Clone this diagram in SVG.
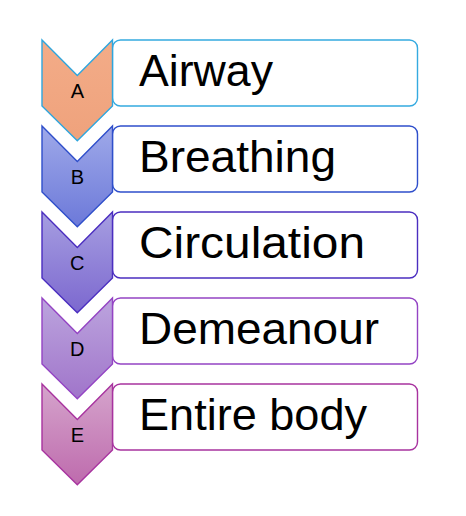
<svg xmlns="http://www.w3.org/2000/svg" width="466" height="516" viewBox="0 0 466 516">
<style>
.box{fill:#fff;stroke-width:1.4}
.chev{stroke-width:1.4;stroke-linejoin:miter}
.lbl{font-family:"Liberation Sans",Arial,sans-serif;font-size:44px;fill:#000}
.ltr{font-family:"Liberation Sans",Arial,sans-serif;font-size:20px;fill:#000;text-anchor:middle}
</style>
<defs>
<linearGradient id="gA" x1="0" y1="0" x2="0" y2="1"><stop offset="0" stop-color="#F3AC88"/><stop offset="1" stop-color="#EFA27C"/></linearGradient>
<linearGradient id="gB" x1="0" y1="0" x2="0" y2="1"><stop offset="0" stop-color="#9FA9E9"/><stop offset="1" stop-color="#6C79D9"/></linearGradient>
<linearGradient id="gC" x1="0" y1="0" x2="0" y2="1"><stop offset="0" stop-color="#A69EE1"/><stop offset="1" stop-color="#7C68CF"/></linearGradient>
<linearGradient id="gD" x1="0" y1="0" x2="0" y2="1"><stop offset="0" stop-color="#BCA4DE"/><stop offset="1" stop-color="#A075CA"/></linearGradient>
<linearGradient id="gE" x1="0" y1="0" x2="0" y2="1"><stop offset="0" stop-color="#D5A4CC"/><stop offset="1" stop-color="#BE6BAD"/></linearGradient>
<path id="chev" d="M42,0 L77.3,35.5 L112.5,0 L112.5,66 L77.3,100.7 L42,66 Z"/>
</defs>
<g id="connectors"/>
<g id="node-A" transform="translate(0,40)">
<rect class="box" x="112.5" y="0" width="305" height="66" rx="8" stroke="#35AAE0"/>
<use href="#chev" class="chev" fill="url(#gA)" stroke="#2EA6DE"/>
<text class="ltr" x="77.3" y="57.5">A</text>
<text class="lbl" x="139" y="46" textLength="134" lengthAdjust="spacingAndGlyphs">Airway</text>
</g>
<g id="node-B" transform="translate(0,126)">
<rect class="box" x="112.5" y="0" width="305" height="66" rx="8" stroke="#2F4FCB"/>
<use href="#chev" class="chev" fill="url(#gB)" stroke="#2F4FCB"/>
<text class="ltr" x="77.3" y="57.5">B</text>
<text class="lbl" x="139" y="46" textLength="197" lengthAdjust="spacingAndGlyphs">Breathing</text>
</g>
<g id="node-C" transform="translate(0,212)">
<rect class="box" x="112.5" y="0" width="305" height="66" rx="8" stroke="#4B2EC0"/>
<use href="#chev" class="chev" fill="url(#gC)" stroke="#4B2EC0"/>
<text class="ltr" x="77.3" y="57.5">C</text>
<text class="lbl" x="139" y="46" textLength="226" lengthAdjust="spacingAndGlyphs">Circulation</text>
</g>
<g id="node-D" transform="translate(0,298)">
<rect class="box" x="112.5" y="0" width="305" height="66" rx="8" stroke="#9444C4"/>
<use href="#chev" class="chev" fill="url(#gD)" stroke="#9444C4"/>
<text class="ltr" x="77.3" y="57.5">D</text>
<text class="lbl" x="139" y="46" textLength="240" lengthAdjust="spacingAndGlyphs">Demeanour</text>
</g>
<g id="node-E" transform="translate(0,384)">
<rect class="box" x="112.5" y="0" width="305" height="66" rx="8" stroke="#A8339F"/>
<use href="#chev" class="chev" fill="url(#gE)" stroke="#A8339F"/>
<text class="ltr" x="77.3" y="57.5">E</text>
<text class="lbl" x="139" y="46" textLength="228" lengthAdjust="spacingAndGlyphs">Entire body</text>
</g>
</svg>
